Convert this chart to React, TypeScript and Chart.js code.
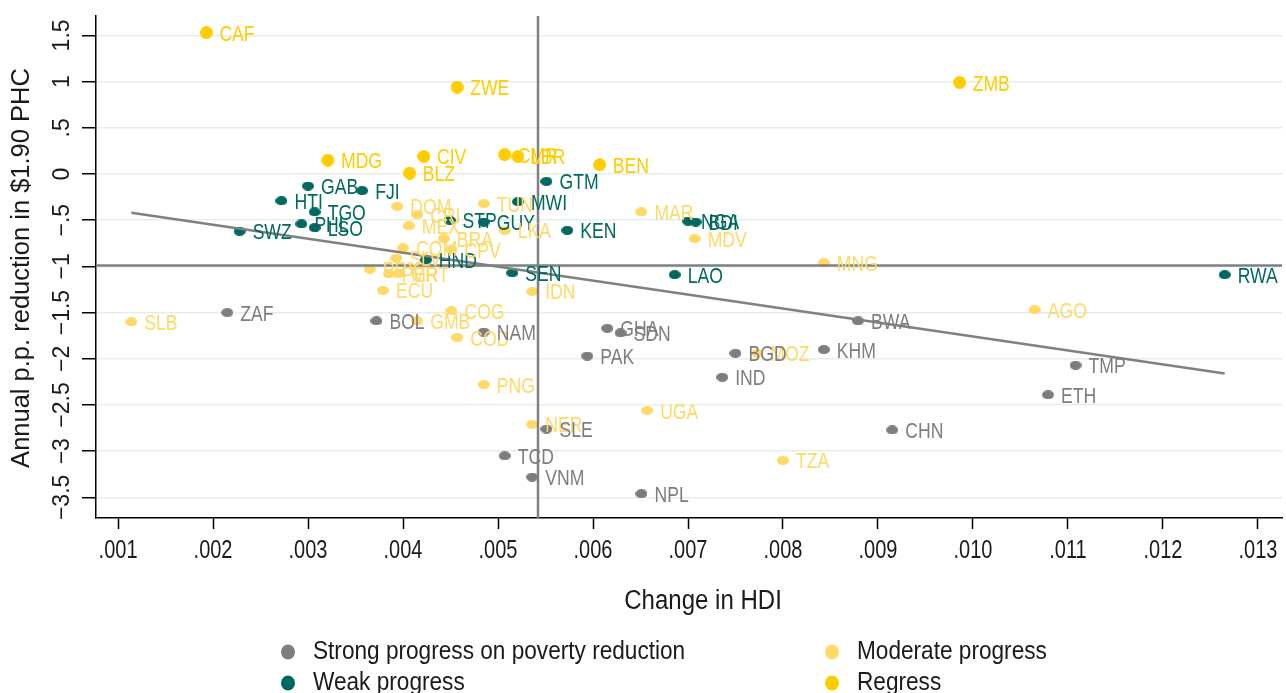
import React, { useEffect, useRef } from "react";
import { Chart, registerables } from "chart.js";
Chart.register(...registerables);

// ---------- data ----------
const strongCodes = ["ZAF", "BOL", "NAM", "GHA", "SDN", "PAK", "BGD", "KHM", "IND", "BWA", "TMP", "ETH", "CHN", "SLE", "TCD", "VNM", "NPL"];
const strongX = [0.00215, 0.00372, 0.00485, 0.00615, 0.00629, 0.00594, 0.0075, 0.00843, 0.00736, 0.00879, 0.01108, 0.01079, 0.00915, 0.00551, 0.00507, 0.00536, 0.00651];
const strongY = [-1.5, -1.59, -1.71, -1.67, -1.72, -1.97, -1.94, -1.9, -2.2, -1.59, -2.07, -2.39, -2.77, -2.76, -3.05, -3.28, -3.46];

const moderateCodes = ["DOM", "CRI", "MEX", "TUN", "LKA", "MAR", "MDV", "MNG", "BRA", "COM", "CPV", "SLV", "PRY", "PER", "MRT", "ECU", "IDN", "COG", "GMB", "COD", "PNG", "UGA", "NER", "TZA", "AGO", "MOZ", "SLB"];
const moderateX = [0.00394, 0.00415, 0.00406, 0.00485, 0.00507, 0.00651, 0.00707, 0.00843, 0.00443, 0.004, 0.00451, 0.00393, 0.00365, 0.00385, 0.00395, 0.00379, 0.00536, 0.00451, 0.00415, 0.00457, 0.00485, 0.00657, 0.00536, 0.008, 0.01065, 0.00773, 0.00114];
const moderateY = [-0.35, -0.44, -0.56, -0.32, -0.61, -0.41, -0.7, -0.96, -0.7, -0.8, -0.82, -0.91, -1.03, -1.08, -1.08, -1.26, -1.27, -1.48, -1.59, -1.77, -2.28, -2.56, -2.71, -3.1, -1.47, -1.94, -1.6];

const weakCodes = ["GAB", "FJI", "HTI", "TGO", "PHL", "LSO", "SWZ", "STP", "GUY", "MWI", "GTM", "KEN", "HND", "SEN", "LAO", "NGA", "BDI", "RWA"];
const weakX = [0.003, 0.00357, 0.00272, 0.00307, 0.00293, 0.00307, 0.00228, 0.00449, 0.00485, 0.00521, 0.00551, 0.00573, 0.00424, 0.00515, 0.00686, 0.007, 0.00708, 0.01265];
const weakY = [-0.13, -0.18, -0.29, -0.41, -0.54, -0.58, -0.62, -0.5, -0.52, -0.3, -0.08, -0.61, -0.93, -1.07, -1.09, -0.51, -0.52, -1.09];

const regressCodes = ["CAF", "ZWE", "ZMB", "MDG", "CIV", "BLZ", "CMR", "LBR", "BEN"];
const regressX = [0.00193, 0.00457, 0.00986, 0.00321, 0.00422, 0.00407, 0.00507, 0.00521, 0.00607];
const regressY = [1.53, 0.94, 0.99, 0.15, 0.19, 0.01, 0.21, 0.19, 0.1];

const meanX = 0.005421;
const meanY = -0.99;
const fitX = [0.00114, 0.01265];
const fitY = [-0.42, -2.16];

const xTicks = [0.001, 0.002, 0.003, 0.004, 0.005, 0.006, 0.007, 0.008, 0.009, 0.01, 0.011, 0.012, 0.013];
const xTickLabels = [".001", ".002", ".003", ".004", ".005", ".006", ".007", ".008", ".009", ".010", ".011", ".012", ".013"];
const yTicks = [-3.5, -3, -2.5, -2, -1.5, -1, -0.5, 0, 0.5, 1, 1.5];
const yTickLabels = ["\u22123.5", "\u22123", "\u22122.5", "\u22122", "\u22121.5", "\u22121", "\u2212.5", "0", ".5", "1", "1.5"];

const X_MIN = 0.000768;
const X_MAX = 0.013253;
const Y_MIN = -3.723;
const Y_MAX = 1.71;

const legendLabels = ["Strong progress on poverty reduction", "Moderate progress", "Weak progress", "Regress"];

// ---------- styles ----------
const C_STRONG = "#7c7d80";
const C_MODERATE = "#ffd966";
const C_WEAK = "#00685f";
const C_REGRESS = "#ffcc00";
const C_LINE = "#808080";
const SANS = '"Liberation Sans", Arial, sans-serif';

function makeDot(color: string, w: number, h: number) {
  const c = document.createElement("canvas");
  c.width = w;
  c.height = h;
  const g = c.getContext("2d")!;
  g.fillStyle = color;
  g.beginPath();
  g.ellipse(w / 2, h / 2, w / 2, h / 2, 0, 0, Math.PI * 2);
  g.fill();
  return c;
}

function pts(xs: number[], ys: number[]) {
  return xs.map((x, i) => ({ x, y: ys[i] }));
}

// draws text condensed horizontally by factor sx
function narrowText(ctx: CanvasRenderingContext2D, text: string, x: number, y: number, sx: number) {
  ctx.save();
  ctx.translate(x, y);
  ctx.scale(sx, 1);
  ctx.fillText(text, 0, 0);
  ctx.restore();
}

const labelPlugin = {
  id: "pointLabels",
  afterDatasetsDraw(chart: any) {
    const ctx = chart.ctx;
    ctx.save();
    ctx.font = `22px ${SANS}`;
    ctx.textAlign = "left";
    ctx.textBaseline = "alphabetic";
    chart.data.datasets.forEach((ds: any, i: number) => {
      if (!ds.codes) return;
      const meta = chart.getDatasetMeta(i);
      ctx.fillStyle = ds.labelColor;
      meta.data.forEach((el: any, j: number) => {
        narrowText(ctx, ds.codes[j], el.x + 13, el.y + 8, 0.8);
      });
    });
    ctx.restore();
  },
};

const axisTextPlugin = {
  id: "axisText",
  afterDraw(chart: any) {
    const ctx = chart.ctx;
    const xs = chart.scales.x;
    const ys = chart.scales.y;
    ctx.save();
    ctx.fillStyle = "#1a1a1a";
    // y tick labels (rotated)
    ctx.font = `23px ${SANS}`;
    ctx.textAlign = "center";
    ctx.textBaseline = "middle";
    yTicks.forEach((v, i) => {
      const py = ys.getPixelForValue(v);
      ctx.save();
      ctx.translate(63, py);
      ctx.rotate(-Math.PI / 2);
      ctx.fillText(yTickLabels[i], 0, 0);
      ctx.restore();
    });
    // y title
    ctx.font = `25.5px ${SANS}`;
    ctx.save();
    ctx.translate(22, (chart.chartArea.top + chart.chartArea.bottom) / 2 + 1);
    ctx.rotate(-Math.PI / 2);
    ctx.fillText("Annual p.p. reduction in $1.90 PHC", 0, 0);
    ctx.restore();
    // x tick labels
    ctx.font = `25px ${SANS}`;
    xTicks.forEach((v, i) => {
      narrowText(ctx, xTickLabels[i], xs.getPixelForValue(v), 551, 0.8);
    });
    // x title
    ctx.font = `27px ${SANS}`;
    narrowText(ctx, "Change in HDI", 703, 602, 0.89);
    // legend
    const items = [
      { c: C_STRONG, x: 288, y: 652 },
      { c: C_MODERATE, x: 832, y: 652 },
      { c: C_WEAK, x: 288, y: 683 },
      { c: C_REGRESS, x: 832, y: 683 },
    ];
    ctx.font = `26px ${SANS}`;
    ctx.textAlign = "left";
    items.forEach((it, i) => {
      ctx.fillStyle = it.c;
      ctx.beginPath();
      ctx.ellipse(it.x, it.y, 7, 7.5, 0, 0, Math.PI * 2);
      ctx.fill();
      ctx.fillStyle = "#1a1a1a";
      narrowText(ctx, legendLabels[i], it.x + 25, it.y, 0.87);
    });
    ctx.restore();
  },
};

export default function App() {
  const ref = useRef<HTMLCanvasElement>(null);
  useEffect(() => {
    if (!ref.current) return;
    const smallStrong = makeDot(C_STRONG, 12, 9);
    const smallMod = makeDot(C_MODERATE, 12, 9);
    const smallWeak = makeDot(C_WEAK, 12, 9);
    const bigReg = makeDot(C_REGRESS, 13, 13);
    const lineDs = (data: any[]) => ({
      type: "scatter",
      data,
      showLine: true,
      borderColor: C_LINE,
      borderWidth: 2.5,
      pointRadius: 0,
      fill: false,
    });
    const chart = new Chart(ref.current, {
      type: "scatter",
      data: {
        datasets: [
          lineDs([{ x: meanX, y: Y_MIN }, { x: meanX, y: Y_MAX }]) as any,
          lineDs([{ x: X_MIN, y: meanY }, { x: X_MAX, y: meanY }]) as any,
          lineDs(pts(fitX, fitY)) as any,
          { data: pts(regressX, regressY), pointStyle: bigReg, pointRadius: 6, codes: regressCodes, labelColor: C_REGRESS } as any,
          { data: pts(weakX, weakY), pointStyle: smallWeak, pointRadius: 5, codes: weakCodes, labelColor: C_WEAK } as any,
          { data: pts(moderateX, moderateY), pointStyle: smallMod, pointRadius: 5, codes: moderateCodes, labelColor: C_MODERATE } as any,
          { data: pts(strongX, strongY), pointStyle: smallStrong, pointRadius: 5, codes: strongCodes, labelColor: C_STRONG } as any,
        ],
      },
      options: {
        animation: false,
        responsive: false,
        devicePixelRatio: 1,
        events: [],
        layout: { padding: { top: 16, right: 4, left: 0, bottom: 0 }, autoPadding: false },
        plugins: { legend: { display: false }, tooltip: { enabled: false } },
        scales: {
          x: {
            type: "linear",
            min: X_MIN,
            max: X_MAX,
            afterBuildTicks: (axis: any) => {
              axis.ticks = xTicks.map((value) => ({ value }));
            },
            afterFit: (axis: any) => {
              axis.height = 175;
            },
            ticks: { display: false },
            grid: { drawOnChartArea: false, drawTicks: true, tickLength: 11, tickColor: "#000", tickWidth: 1.5 },
            border: { display: true, color: "#000", width: 1.5 },
          },
          y: {
            type: "linear",
            min: Y_MIN,
            max: Y_MAX,
            afterBuildTicks: (axis: any) => {
              axis.ticks = yTicks.map((value) => ({ value }));
            },
            afterFit: (axis: any) => {
              axis.width = 96;
            },
            ticks: { display: false },
            grid: { color: "#e3eeee", lineWidth: 1.5, drawTicks: true, tickLength: 14, tickColor: "#000", tickWidth: 1.5 },
            border: { display: true, color: "#000", width: 1.5 },
          },
        },
      } as any,
      plugins: [labelPlugin, axisTextPlugin],
    });
    return () => chart.destroy();
  }, []);
  return (
    <div style={{ position: "absolute", left: 0, top: 0, width: 1286, height: 693, background: "#fff" }}>
      <canvas ref={ref} width={1286} height={693} style={{ display: "block" }} />
    </div>
  );
}
